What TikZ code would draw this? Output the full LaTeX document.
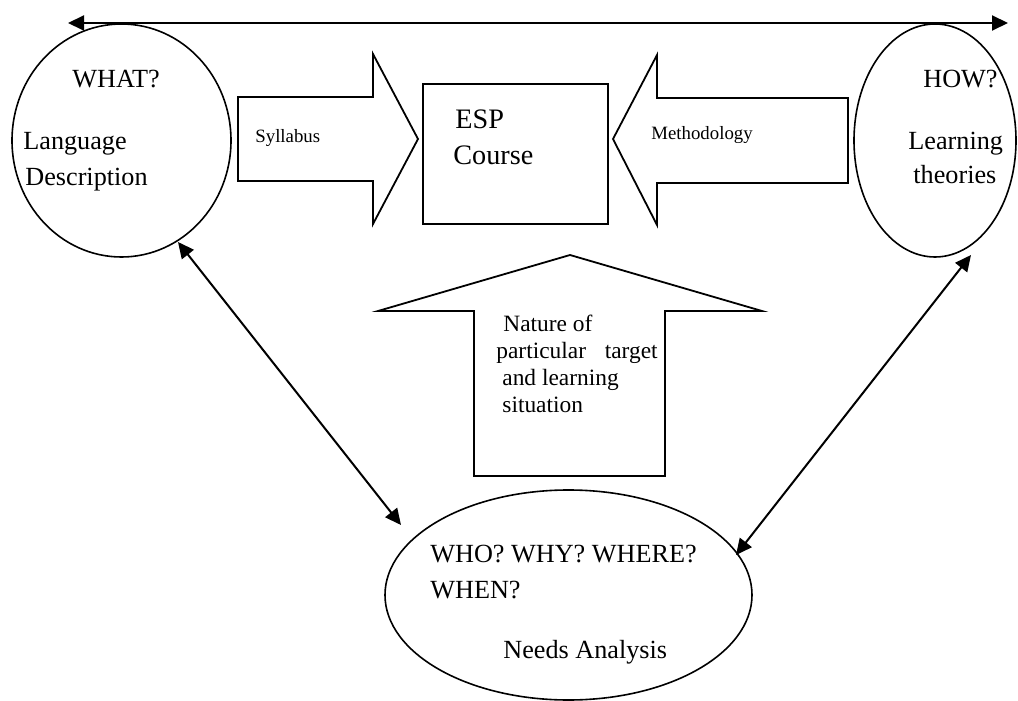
\documentclass[tikz,border=0pt]{standalone}
\usepackage{fontspec}
\setmainfont{Liberation Serif}
\usetikzlibrary{shapes.geometric,arrows.meta}

\tikzset{
  bubble/.style={ellipse, draw, line width=0.8pt, inner sep=0pt},
  blockarrow/.style={draw, line width=0.9pt, line join=miter},
  link/.style={{Triangle[length=8pt,width=7.5pt]}-{Triangle[length=8pt,width=7.5pt]}, line width=1pt},
  txt/.style={anchor=base west, inner sep=0pt, font=\fontsize{13.1}{15}\selectfont},
  txtsmall/.style={anchor=base west, inner sep=0pt, font=\fontsize{9.4}{11}\selectfont},
  txtmid/.style={anchor=base west, inner sep=0pt, font=\fontsize{11.7}{13}\selectfont},
  txtbig/.style={anchor=base west, inner sep=0pt, font=\fontsize{14.1}{16}\selectfont},
}

\begin{document}
\begin{tikzpicture}[x=0.5pt, y=-0.5pt]
\useasboundingbox (0,0) rectangle (1018,701);

% the three bubbles
\node[bubble, minimum width=109.5pt, minimum height=116.5pt] (what) at (121.5,140.5) {};
\node[bubble, minimum width=81pt, minimum height=116.5pt] (how) at (935,140.5) {};
\node[bubble, minimum width=183.5pt, minimum height=105pt] (needs) at (568.5,595) {};

% the course box
\node[draw, line width=0.9pt, minimum width=92.5pt, minimum height=70pt, inner sep=0pt] (esp) at (515.5,154) {};

% block arrow: Syllabus
\draw[blockarrow] (238,97) -- (373,97) -- (373,54) -- (418,139) -- (373,224) -- (373,181) -- (238,181) -- cycle;
% block arrow: Methodology
\draw[blockarrow] (848,98) -- (657,98) -- (657,55) -- (613,139) -- (657,225) -- (657,183) -- (848,183) -- cycle;
% block arrow: target and learning situation
\draw[blockarrow] (474,476) -- (474,311) -- (378,311) -- (570,255) -- (762,311) -- (665,311) -- (665,476) -- cycle;

% connector end points
\coordinate (topL) at (68,23);
\coordinate (topR) at (1008,23);
\coordinate (whatEnd) at (178,242);
\coordinate (needsL) at (401,525);
\coordinate (howEnd) at (971,255);
\coordinate (needsR) at (736,555);

\draw[link] (topL) -- (topR);
\draw[link] (whatEnd) -- (needsL);
\draw[link] (howEnd) -- (needsR);

% texts
\node[txt] (t1) at (72,88) {WHAT?};
\node[txt] (t2) at (23,149) {Language};
\node[txt] (t3) at (25,185) {Description};

\node[txt] (t4) at (923,88) {HOW?};
\node[txt] (t5) at (908,149) {Learning};
\node[txt] (t6) at (913,184) {theories};

\node[txtsmall] (t7) at (255,142) {Syllabus};
\node[txtsmall] (t8) at (651,140) {Methodology};

\node[txtbig] (t9) at (455,129) {ESP};
\node[txtbig] (t10) at (453,165) {Course};

\node[txtmid] (t11) at (503,331) {Nature of};
\node[txtmid] (t12) at (496,358) {particular\hspace{0.8em}target};
\node[txtmid] (t13) at (502,385) {and learning};
\node[txtmid] (t14) at (502,412) {situation};

\node[txt] (t15) at (430,562) {WHO? WHY? WHERE?};
\node[txt] (t16) at (430,598) {WHEN?};
\node[txt] (t17) at (503,658) {Needs Analysis};
\end{tikzpicture}
\end{document}
